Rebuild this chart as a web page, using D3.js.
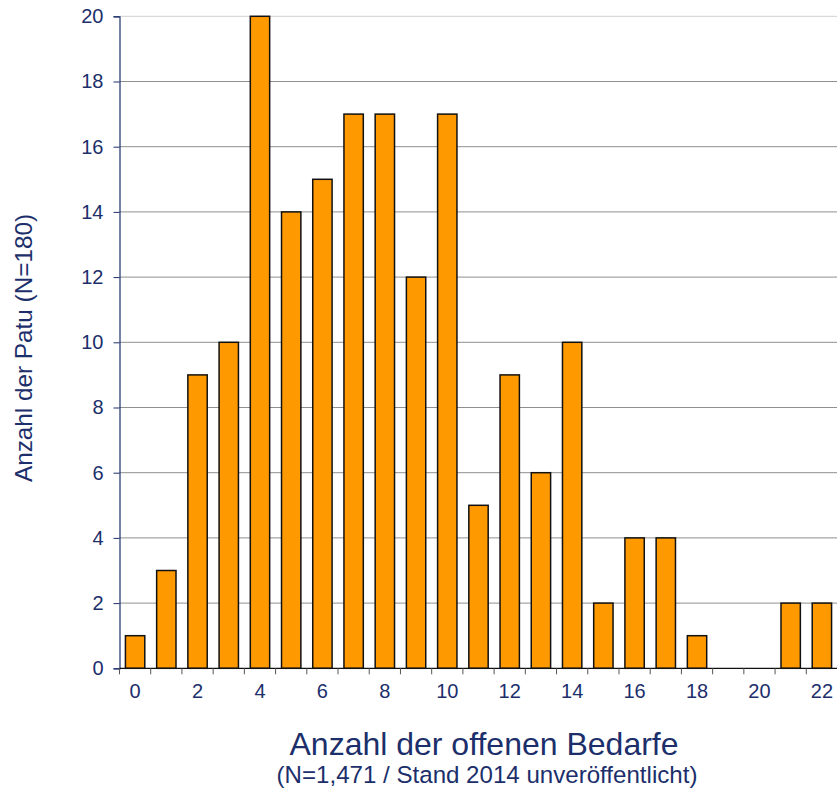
<!DOCTYPE html>
<html>
<head>
<meta charset="utf-8">
<script src="https://cdn.jsdelivr.net/npm/d3@7"></script>
<style>
  html, body { margin: 0; padding: 0; background: #fff; }
  svg { display: block; }
</style>
</head>
<body>
<div id="chart"></div>
<script>
// Data
const categories = d3.range(0, 23);
const counts = [1, 3, 9, 10, 20, 14, 15, 17, 17, 12, 17, 5, 9, 6, 10, 2, 4, 4, 1, 0, 0, 2, 2];
const yTicks = [0, 2, 4, 6, 8, 10, 12, 14, 16, 18, 20];
const xLabels = [0, 2, 4, 6, 8, 10, 12, 14, 16, 18, 20, 22];

const W = 837, H = 790;
const FONT = '"Liberation Sans", Arial, Helvetica, sans-serif';
const NAVY = '#1c2f6b';

const M = { left: 119.5, right: 0, top: 16.3, bottom: H - 668.3 };

const svg = d3.select('#chart').append('svg')
  .attr('width', W).attr('height', H)
  .attr('viewBox', `0 0 ${W} ${H}`);

const x = d3.scaleBand()
  .domain(categories)
  .range([M.left, W + 0.5])
  .paddingInner(0.38)
  .paddingOuter(0.19);

const y = d3.scaleLinear()
  .domain([0, 20])
  .range([H - M.bottom, M.top]);

// Gridlines
svg.append('g')
  .selectAll('line')
  .data(yTicks.filter(d => d > 0))
  .join('line')
  .attr('x1', M.left).attr('x2', W)
  .attr('y1', d => y(d)).attr('y2', d => y(d))
  .attr('stroke', d => d === 20 ? '#d0d0d0' : '#8f8f8f')
  .attr('stroke-width', 1);

// Bars
svg.append('g')
  .selectAll('rect')
  .data(counts.map((v, i) => ({ cat: categories[i], v })).filter(d => d.v > 0))
  .join('rect')
  .attr('x', d => x(d.cat))
  .attr('y', d => y(d.v))
  .attr('width', x.bandwidth())
  .attr('height', d => y(0) - y(d.v))
  .attr('fill', '#ff9900')
  .attr('stroke', '#111')
  .attr('stroke-width', 1.5);

// Y axis
const yAxis = svg.append('g')
  .attr('transform', `translate(${M.left},0)`)
  .call(d3.axisLeft(y).tickValues(yTicks).tickSize(6).tickPadding(10).tickFormat(d3.format('d')));
yAxis.select('.domain').attr('stroke', NAVY).attr('stroke-width', 1.2);
yAxis.selectAll('.tick line').attr('stroke', NAVY);
yAxis.selectAll('.tick text')
  .attr('fill', NAVY)
  .attr('font-family', FONT)
  .attr('font-size', 20);

// X axis: baseline, ticks on band boundaries, labels every 2nd category
const y0 = y(0);
svg.append('line')
  .attr('x1', M.left).attr('x2', W)
  .attr('y1', y0).attr('y2', y0)
  .attr('stroke', '#111').attr('stroke-width', 1.2);

const step = x.step();
svg.append('g')
  .selectAll('line')
  .data(d3.range(0, categories.length))
  .join('line')
  .attr('x1', i => M.left + i * step).attr('x2', i => M.left + i * step)
  .attr('y1', y0).attr('y2', y0 + 6)
  .attr('stroke', '#555').attr('stroke-width', 1);

svg.append('g')
  .selectAll('text')
  .data(xLabels)
  .join('text')
  .attr('x', d => x(d) + x.bandwidth() / 2)
  .attr('y', y0 + 30)
  .attr('text-anchor', 'middle')
  .attr('font-family', FONT)
  .attr('font-size', 20)
  .attr('fill', NAVY)
  .text(d => d);

// Axis titles
svg.append('text')
  .attr('transform', `translate(32,348) rotate(-90)`)
  .attr('text-anchor', 'middle')
  .attr('font-family', FONT)
  .attr('font-size', 24.3)
  .attr('fill', NAVY)
  .text('Anzahl der Patu (N=180)');

svg.append('text')
  .attr('x', 484).attr('y', 755)
  .attr('text-anchor', 'middle')
  .attr('font-family', FONT)
  .attr('font-size', 32)
  .attr('fill', NAVY)
  .text('Anzahl der offenen Bedarfe');

svg.append('text')
  .attr('x', 487).attr('y', 783)
  .attr('text-anchor', 'middle')
  .attr('font-family', FONT)
  .attr('font-size', 24.1)
  .attr('fill', NAVY)
  .text('(N=1,471 / Stand 2014 unveröffentlicht)');
</script>
</body>
</html>
